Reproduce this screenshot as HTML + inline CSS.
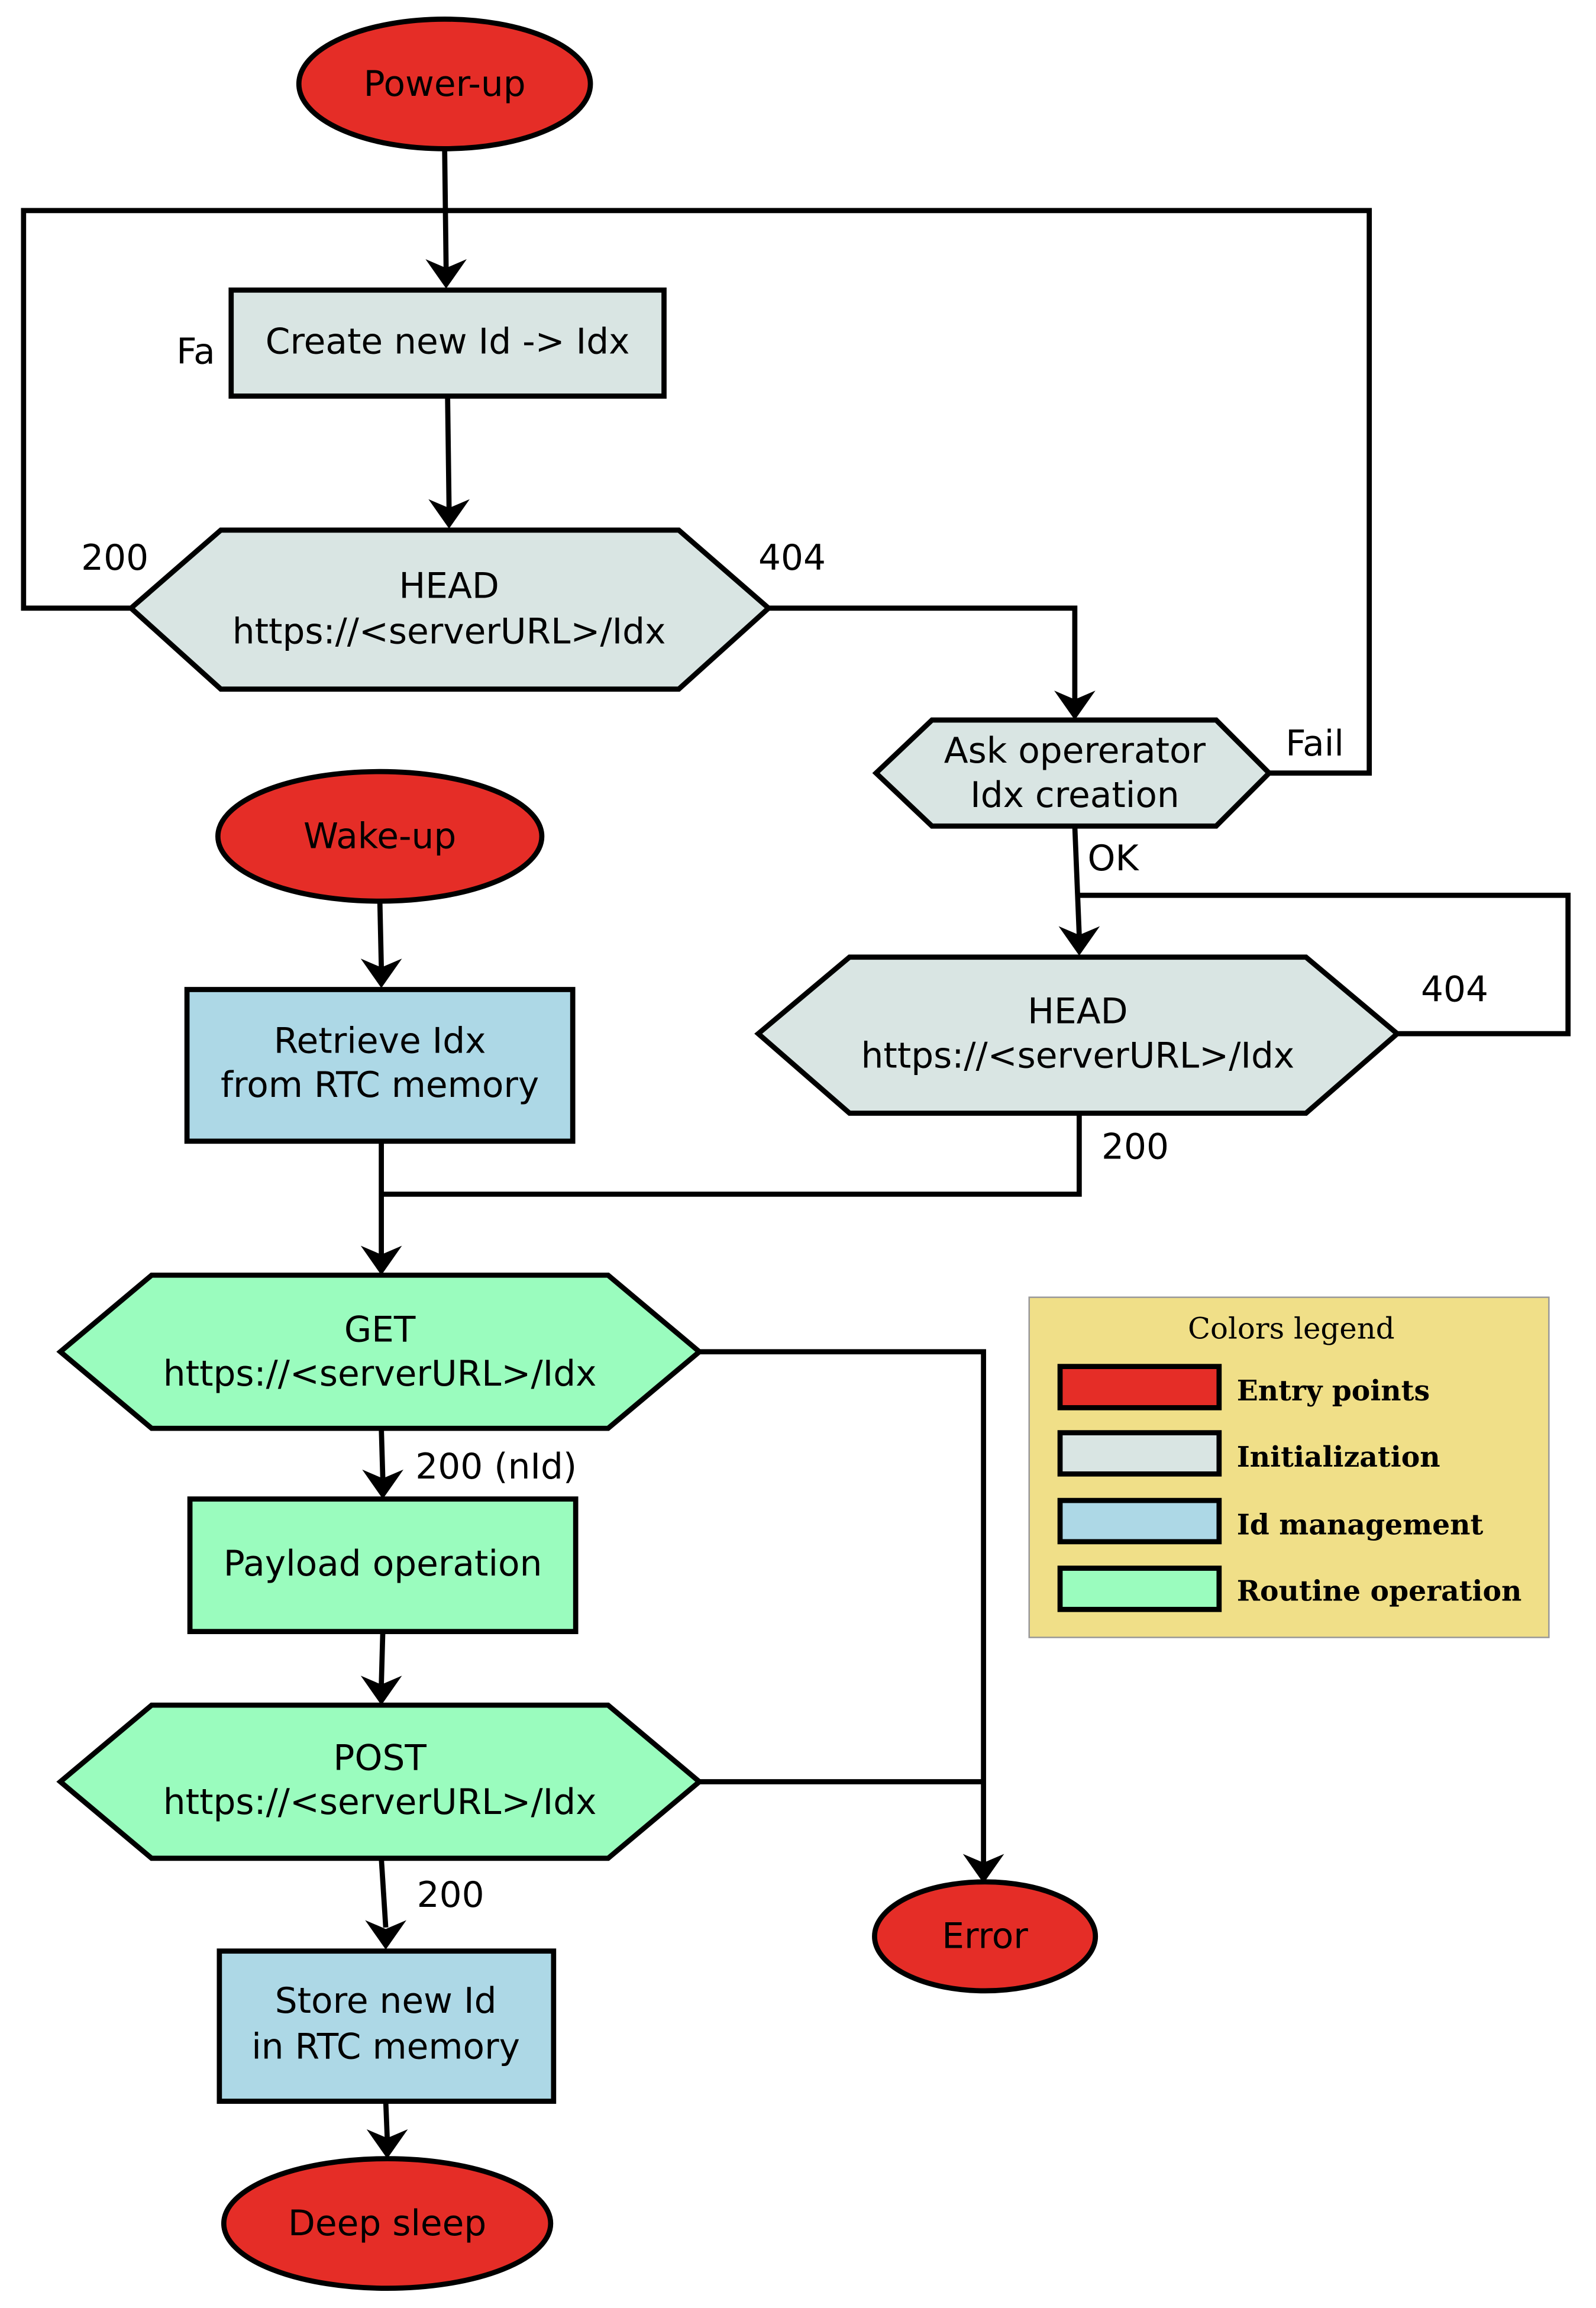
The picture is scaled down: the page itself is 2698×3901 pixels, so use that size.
<!DOCTYPE html>
<html><head><meta charset="utf-8"><style>
html,body{margin:0;padding:0;background:#fff;}
svg{display:block;}
text{font-family:"DejaVu Sans","Liberation Sans",sans-serif;font-size:24px;fill:#000;}
.c{text-anchor:middle;}
.lg{font-family:"DejaVu Serif","Liberation Serif",serif;font-size:19px;font-weight:bold;}
</style></head><body>
<svg width="2698" height="3901" viewBox="0 0 1084 1567.4" preserveAspectRatio="none" xmlns="http://www.w3.org/2000/svg">
<g fill="none" stroke="#000" stroke-width="3.5" stroke-linejoin="miter">
<polyline points="89,413 16,413 16,143 303,143"/>
<polyline points="862,525 930,525 930,143 303,143"/>
<line x1="302" y1="101" x2="303" y2="182"/>
<line x1="304" y1="269" x2="305" y2="345"/>
<polyline points="522,413 730,413 730,475"/>
<line x1="730" y1="561" x2="733" y2="635"/>
<polyline points="949,702 1065,702 1065,608 733,608"/>
<polyline points="733,756 733,811 259,811"/>
<line x1="258" y1="612" x2="259" y2="657"/>
<line x1="259" y1="775" x2="259" y2="852"/>
<polyline points="475,918 668,918 668,1265"/>
<line x1="475" y1="1210" x2="668" y2="1210"/>
<line x1="259" y1="970" x2="260" y2="1004"/>
<line x1="260" y1="1108" x2="259" y2="1144"/>
<line x1="259" y1="1262" x2="262" y2="1309"/>
<line x1="262" y1="1427" x2="263" y2="1452"/>
</g>
<g fill="#000">
<polygon points="303,196 289,176 303,182 317,176"/>
<polygon points="305,359 291,339 305,345 319,339"/>
<polygon points="730,489 716,469 730,475 744,469"/>
<polygon points="733,649 719,629 733,635 747,629"/>
<polygon points="259,671 245,651 259,657 273,651"/>
<polygon points="259,866 245,846 259,852 273,846"/>
<polygon points="668,1279 654,1259 668,1265 682,1259"/>
<polygon points="260,1018 246,998 260,1004 274,998"/>
<polygon points="259,1158 245,1138 259,1144 273,1138"/>
<polygon points="262,1324 248,1304 262,1310 276,1304"/>
<polygon points="263,1466 249,1446 263,1452 277,1446"/>
</g>
<g stroke="#000" stroke-width="3.5">
<ellipse cx="302" cy="57" rx="99" ry="44" fill="#e52d27"/>
<rect x="157" y="197" width="294" height="72" fill="#d9e5e3"/>
<polygon points="89,413 150,360 461,360 522,413 461,468 150,468" fill="#d9e5e3"/>
<polygon points="595,525 633,489 826,489 862,525 826,561 633,561" fill="#d9e5e3"/>
<polygon points="515,702 577,650 887,650 949,702 887,756 577,756" fill="#d9e5e3"/>
<ellipse cx="258" cy="568" rx="110" ry="44" fill="#e52d27"/>
<rect x="127" y="672" width="262" height="103" fill="#add8e6"/>
<polygon points="41,918 103,866 413,866 475,918 413,970 103,970" fill="#9afcbe"/>
<rect x="129" y="1018" width="262" height="90" fill="#9afcbe"/>
<polygon points="41,1210 103,1158 413,1158 475,1210 413,1262 103,1262" fill="#9afcbe"/>
<ellipse cx="669" cy="1315" rx="75" ry="37" fill="#e52d27"/>
<rect x="149" y="1325" width="227" height="102" fill="#add8e6"/>
<ellipse cx="263" cy="1510" rx="111" ry="44" fill="#e52d27"/>
</g>
<rect x="699" y="881" width="353" height="231" fill="#f0df88" stroke="#999" stroke-width="1"/>
<g stroke="#000" stroke-width="3.5">
<rect x="720" y="928" width="108" height="28" fill="#e52d27"/>
<rect x="720" y="973" width="108" height="28" fill="#d9e5e3"/>
<rect x="720" y="1019" width="108" height="28" fill="#add8e6"/>
<rect x="720" y="1065" width="108" height="28" fill="#9afcbe"/>
</g>
<text x="877" y="909" class="c" style="font-family:'DejaVu Serif','Liberation Serif',serif;font-size:20px">Colors legend</text>
<text x="840" y="951" class="lg">Entry points</text>
<text x="840" y="996" class="lg">Initialization</text>
<text x="840" y="1042" class="lg">Id management</text>
<text x="840" y="1087" class="lg">Routine operation</text>
<text x="302" y="65" class="c">Power-up</text>
<text x="304" y="240" class="c">Create new Id -&gt; Idx</text>
<text x="133" y="247" class="c">Fa</text>
<text x="305" y="406" class="c">HEAD</text>
<text x="305" y="437" class="c">https://&lt;serverURL&gt;/Idx</text>
<text x="78" y="387" class="c">200</text>
<text x="538" y="387" class="c">404</text>
<text x="730" y="518" class="c">Ask opererator</text>
<text x="730" y="548" class="c">Idx creation</text>
<text x="893" y="513" class="c">Fail</text>
<text x="756" y="591" class="c">OK</text>
<text x="732" y="695" class="c">HEAD</text>
<text x="732" y="725" class="c">https://&lt;serverURL&gt;/Idx</text>
<text x="988" y="680" class="c">404</text>
<text x="771" y="787" class="c">200</text>
<text x="258" y="576" class="c">Wake-up</text>
<text x="258" y="715" class="c">Retrieve Idx</text>
<text x="258" y="745" class="c">from RTC memory</text>
<text x="258" y="911" class="c">GET</text>
<text x="258" y="941" class="c">https://&lt;serverURL&gt;/Idx</text>
<text x="337" y="1004" class="c">200 (nId)</text>
<text x="260" y="1070" class="c">Payload operation</text>
<text x="258" y="1202" class="c">POST</text>
<text x="258" y="1232" class="c">https://&lt;serverURL&gt;/Idx</text>
<text x="306" y="1295" class="c">200</text>
<text x="669" y="1323" class="c">Error</text>
<text x="262" y="1367" class="c">Store new Id</text>
<text x="262" y="1398" class="c">in RTC memory</text>
<text x="263" y="1518" class="c">Deep sleep</text>
</svg>
</body></html>
